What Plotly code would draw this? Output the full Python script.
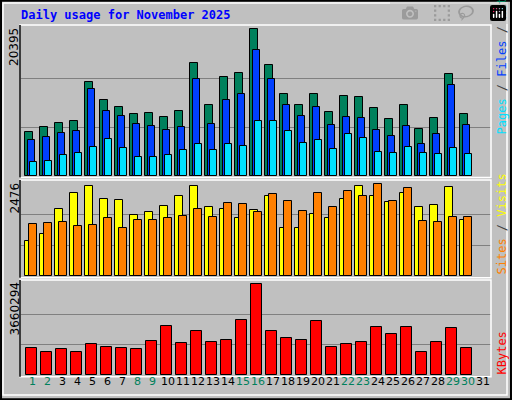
import plotly.graph_objects as go

# values
days = list(range(1, 31))
hits = [6060, 6750, 7310, 7590, 13130, 10500, 9530, 8560, 8700, 8140, 8970, 15770, 9810, 13830, 14380,
        20395, 15490, 11470, 9940, 11470, 8830, 11190, 11050, 9390, 7860, 9810, 6480, 8000, 14240, 8560]
files = [4950, 5370, 5920, 6200, 12030, 8970, 8280, 7170, 6890, 6340, 6750, 13550, 7170, 10500, 11470,
         17570, 13550, 9810, 8280, 9530, 7030, 8140, 8000, 6340, 5510, 6890, 4400, 5780, 12720, 7030]
pages = [1900, 2040, 2870, 3150, 3980, 5090, 3840, 2590, 2590, 2870, 3560, 4400, 3560, 4400, 4120,
         7590, 7590, 6200, 4540, 4950, 3700, 5780, 5230, 3290, 3150, 3980, 3150, 3010, 3840, 3010]
visits = [942, 1130, 1803, 2233, 2422, 2072, 2045, 1642, 1722, 1884, 2153, 2422, 1857, 1803, 1561,
          1776, 2153, 1292, 1292, 1687, 1561, 2072, 2422, 2153, 1991, 2233, 1857, 1911, 2395, 1507]
sites = [1399, 1426, 1453, 1346, 1372, 1561, 1292, 1507, 1507, 1561, 1615, 1803, 1588, 1964, 1937,
         1722, 2207, 2018, 1749, 2233, 1857, 2287, 2153, 2476, 2018, 2368, 1480, 1453, 1588, 1588]
kbytes = [1086000, 925000, 1046000, 925000, 1247000, 1126000, 1086000, 1046000, 1368000, 1971000,
          1287000, 1770000, 1327000, 1408000, 2212000, 3660294, 1770000, 1488000, 1408000, 2172000,
          1126000, 1247000, 1327000, 1931000, 1649000, 1931000, 925000, 1327000, 1891000, 1086000]
label_days = list(range(1, 32))
weekend = [1, 2, 8, 9, 15, 16, 22, 23, 29, 30]

W, H = 512, 400
BG = "#c0c0c0"
GREEN, BLUE, CYAN = "#00805c", "#0040ff", "#00e0ff"
YELLOW, ORANGE, RED = "#ffff00", "#ff8000", "#ff0000"


def py(px):
    return 1 - px / H


def px_x(px):
    return px / W


xs = [d - 1 for d in days]
fig = go.Figure()


def bars(vals, color, off, width, ax):
    fig.add_trace(go.Bar(x=xs, y=vals, offset=off, width=width, marker_color=color,
                         marker_line=dict(color="black", width=1), xaxis="x", yaxis=ax,
                         showlegend=False, hoverinfo="skip"))


bars(hits, GREEN, 0.36, 0.5, "y")
bars(files, BLUE, 0.52, 0.5, "y")
bars(pages, CYAN, 0.64, 0.5, "y")
bars(visits, YELLOW, 0.36, 0.5, "y2")
bars(sites, ORANGE, 0.6, 0.5, "y2")
bars(kbytes, RED, 0.4, 0.7, "y3")

# panel geometry: (top px, zero px, max px, max value)
panels = [("yaxis", 25, 176, 29.3, max(hits)),
          ("yaxis2", 180, 276.3, 184.3, max(sites)),
          ("yaxis3", 280, 375.3, 284.3, max(kbytes))]
for name, top, zero, mx, vmax in panels:
    rng = vmax * (zero - top) / (zero - mx)
    fig.layout[name] = dict(domain=[py(zero), py(top)], range=[0, rng], tickvals=[vmax / 3, 2 * vmax / 3],
                            showticklabels=False, showgrid=True, gridcolor="#808080", gridwidth=1,
                            zeroline=False, fixedrange=True)
    fig.add_shape(type="rect", xref="paper", yref="paper", x0=px_x(20), x1=px_x(491),
                  y0=py(zero + 1.5), y1=py(top), line=dict(color="white", width=1.5))
    fig.add_shape(type="line", xref="paper", yref="paper", x0=px_x(20), x1=px_x(20),
                  y0=py(zero + 1.5), y1=py(top), line=dict(color="black", width=1.5))
    fig.add_annotation(text=f"{vmax}", textangle=-90, xref="paper", yref="paper", x=px_x(14),
                       y=py(top + 1), xanchor="center", yanchor="top", showarrow=False,
                       font=dict(family="DejaVu Sans", size=12, color="black"))

fig.layout.xaxis = dict(domain=[px_x(20), px_x(491)], range=[0, 31.4], visible=False, fixedrange=True,
                        anchor="y3")

for d in label_days:
    fig.add_annotation(text=str(d), x=d - 1 + 0.85, y=py(390), xref="x", yref="paper", showarrow=False,
                       font=dict(family="DejaVu Sans", size=11, color=GREEN if d in weekend else "black"))

fig.add_annotation(text="Daily usage for November 2025", xref="paper", yref="paper", x=px_x(19),
                   y=py(15), xanchor="left", yanchor="middle", showarrow=False,
                   font=dict(family="DejaVu Sans Mono", size=12, color="#0000ff", weight="bold"))

legends = [(f"<span style='color:{CYAN}'>Pages</span> / <span style='color:{BLUE}'>Files</span>"
            f" / <span style='color:{GREEN}'>Hits</span>", 137),
           (f"<span style='color:{ORANGE}'>Sites</span> / <span style='color:{YELLOW}'>Visits</span>", 277),
           (f"<span style='color:{RED}'>KBytes</span>", 377)]
for txt, bottom in legends:
    fig.add_annotation(text=txt, textangle=-90, xref="paper", yref="paper", x=px_x(501), y=py(bottom),
                       xanchor="center", yanchor="bottom", showarrow=False,
                       font=dict(family="DejaVu Sans Mono", size=12, color="#404040"))

# outer bevel
fig.add_shape(type="rect", xref="paper", yref="paper", x0=0.002, x1=0.998, y0=0.002, y1=0.998,
              line=dict(color="black", width=2))
fig.add_shape(type="rect", xref="paper", yref="paper", x0=px_x(3), x1=px_x(507), y0=py(395), y1=py(3),
              line=dict(color="white", width=1.5))

fig.update_layout(width=W, height=H, margin=dict(l=0, r=0, t=0, b=0), paper_bgcolor=BG, plot_bgcolor=BG,
                  barmode="overlay", bargap=0)
# drop the default page margin so the figure sits at the window corner
fig.write_html("out.html", post_script="document.body.style.margin='0';")
